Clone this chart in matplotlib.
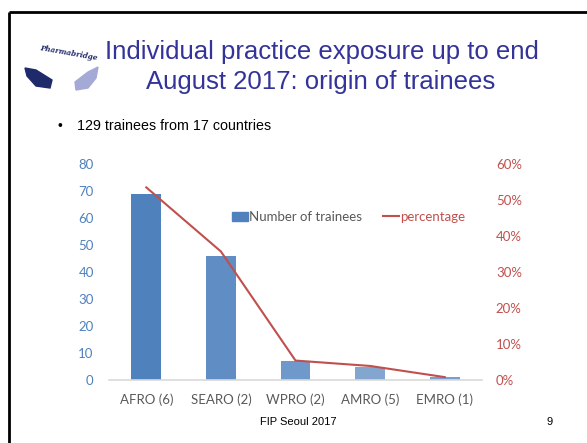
import matplotlib
matplotlib.use('Agg')
import matplotlib.pyplot as plt
from matplotlib.patches import Polygon, Rectangle
from matplotlib.lines import Line2D
import numpy as np

regions = ['AFRO (6)', 'SEARO (2)', 'WPRO (2)', 'AMRO (5)', 'EMRO (1)']
trainees = [69, 46, 7, 5, 1]
percentage = [53.5, 35.7, 5.4, 3.9, 0.8]
bar_colors = ['#4f81bd', '#5f8dc4', '#7099cb', '#82a6d0', '#7a9fcf']
left_ticks = [0, 10, 20, 30, 40, 50, 60, 70, 80]
right_ticks = [0, 10, 20, 30, 40, 50, 60]

W, H = 587, 443
fig = plt.figure(figsize=(W / 100, H / 100), dpi=100)
fig.patch.set_facecolor('white')

# slide border: only top and left edges are visible
fig.add_artist(Line2D([9 / W, 1.05], [1 - 12 / H, 1 - 12 / H], transform=fig.transFigure,
                      color='black', lw=2, solid_capstyle='butt'))
fig.add_artist(Line2D([9 / W, 9 / W], [-0.05, 1 - 12 / H], transform=fig.transFigure,
                      color='black', lw=2, solid_capstyle='butt'))

# rough logo
fig.add_artist(Polygon([(25 / W, 1 - 68 / H), (36 / W, 1 - 70 / H), (52 / W, 1 - 80 / H),
                        (50 / W, 1 - 88 / H), (36 / W, 1 - 86 / H), (27 / W, 1 - 76 / H)],
                       closed=True, transform=fig.transFigure, color='#1f2a6b'))
fig.add_artist(Polygon([(75 / W, 1 - 82 / H), (88 / W, 1 - 72 / H), (98 / W, 1 - 67 / H),
                        (96 / W, 1 - 78 / H), (88 / W, 1 - 88 / H), (76 / W, 1 - 90 / H)],
                       closed=True, transform=fig.transFigure, color='#a4a9d6'))
fig.text(69 / W, 1 - 53 / H, 'Pharmabridge', fontsize=5.2, color='#1f2a6b', fontweight='bold',
         ha='center', va='center', rotation=-10, family='DejaVu Serif', style='italic')

title_col = '#333399'
fig.text(322 / W, 1 - 59 / H, 'Individual practice exposure up to end', fontsize=18.5,
         color=title_col, ha='center', va='baseline', family='Liberation Sans')
fig.text(321 / W, 1 - 89 / H, 'August 2017: origin of trainees', fontsize=18.5,
         color=title_col, ha='center', va='baseline', family='Liberation Sans')

fig.text(57 / W, 1 - 130 / H, '•', fontsize=10, ha='left', va='baseline', family='Liberation Sans')
fig.text(77 / W, 1 - 130 / H, '129 trainees from 17 countries', fontsize=10.3,
         ha='left', va='baseline', family='Liberation Sans')

fig.text(298 / W, 1 - 422 / H, 'FIP Seoul 2017', fontsize=8, ha='center', va='center',
         family='Liberation Sans')
fig.text(550 / W, 1 - 422 / H, '9', fontsize=8, ha='center', va='center', family='Liberation Sans')

ax = fig.add_axes([109 / W, 1 - 380 / H, 373 / W, 216 / H])
x = np.arange(len(regions))
ax.bar(x, trainees, width=0.4, color=bar_colors, zorder=2)
ax.set_xlim(-0.5, len(regions) - 0.5)
ax.set_ylim(0, 80)
ax.set_yticks(left_ticks)
ax.set_xticks(x)
ax.set_xticklabels(regions)
for s in ['top', 'right', 'left']:
    ax.spines[s].set_visible(False)
ax.spines['bottom'].set_color('#d9d9d9')
ax.spines['bottom'].set_linewidth(1.2)
ax.tick_params(axis='both', length=0)
ax.tick_params(axis='y', colors='#4f81bd', labelsize=9.5, pad=11)
ax.tick_params(axis='x', colors='#595959', labelsize=9.5, pad=10)
for lab in ax.get_xticklabels() + ax.get_yticklabels():
    lab.set_family('Lato')

ax2 = ax.twinx()
ax2.plot(x, percentage, color='#c0504d', lw=1.5, zorder=3)
ax2.set_ylim(0, 60)
ax2.set_yticks(right_ticks)
ax2.set_yticklabels([f'{t}%' for t in right_ticks])
for s in ['top', 'right', 'left', 'bottom']:
    ax2.spines[s].set_visible(False)
ax2.tick_params(axis='y', colors='#c0504d', labelsize=9.5, length=0, pad=10)
for lab in ax2.get_yticklabels():
    lab.set_family('Lato')

handles = [Rectangle((0, 0), 1, 1, color='#4f81bd'), Line2D([], [], color='#c0504d', lw=1.5)]
leg = ax.legend(handles, ['Number of trainees', 'percentage'], loc='center',
                bbox_to_anchor=(0.643, 0.755), ncol=2, frameon=False,
                handlelength=1.2, handletextpad=0.1, columnspacing=1.6,
                prop={'family': 'Lato', 'size': 9.5})
leg.get_texts()[0].set_color('#595959')
leg.get_texts()[1].set_color('#c0504d')

fig.savefig('out.png', dpi=100)
